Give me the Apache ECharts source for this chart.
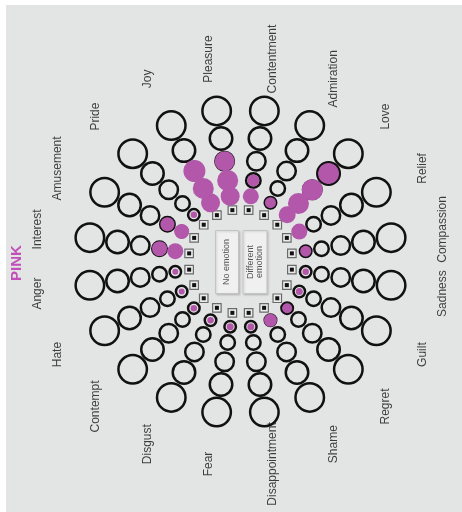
<!DOCTYPE html>
<html>
<head>
<meta charset="utf-8">
<style>
html,body{margin:0;padding:0;background:#ffffff;}
#chart{width:462px;height:512px;}
</style>
<script src="https://cdn.jsdelivr.net/npm/echarts@6/dist/echarts.min.js"></script>
</head>
<body>
<div id="chart"></div>
<script>
// Emotions, counter-clockwise starting just above 3 o'clock
const emotions = ['Compassion','Relief','Love','Admiration','Contentment','Pleasure','Joy','Pride','Amusement','Interest','Anger','Hate','Contempt','Disgust','Fear','Disappointment','Shame','Regret','Guilt','Sadness'];
// Pink response strength per ring (ring 1 = innermost, small intensity)
const pinkRing1 = [11,16,17,11,16,19,19,6.5,15,16,6,6,6.5,6.5,7,7,13,10,7,6.5];
const pinkRing2 = [0,0,21,0,12,21,21,0,14,15,0,0,0,0,0,0,0,0,0,0];
const pinkRing3 = [0,0,21,0,0,20,22,0,0,0,0,0,0,0,0,0,0,0,0,0];
const pinkRing4 = [0,0,21,0,0,0,0,0,0,0,0,0,0,0,0,0,0,0,0,0];
const pinkRing5 = [0,0,0,0,0,0,0,0,0,0,0,0,0,0,0,0,0,0,0,0];
const pinkRings = [pinkRing1,pinkRing2,pinkRing3,pinkRing4,pinkRing5];

// layout (not data)
const CX = 240.5, CY = 261.5;
const ringRadius = [66, 82, 101.5, 124.5, 152.5];
const ringSize = [11.5, 14.5, 18.5, 22.5, 28.5];
const squareRadius = 52;
const labelRadius = 205;
const angleOf = i => 9 + 18 * i;

const outlineData = [];
emotions.forEach((e, i) => ringRadius.forEach((r, k) => outlineData.push([r, angleOf(i), k])));
const squareData = emotions.map((e, i) => [squareRadius, angleOf(i)]);
const pinkData = [];
pinkRings.forEach((arr, k) => arr.forEach((v, i) => { if (v > 0) pinkData.push([ringRadius[k], angleOf(i), v]); }));
const labelData = emotions.map((e, i) => ({ value: [labelRadius, angleOf(i)], name: e }));

const chart = echarts.init(document.getElementById('chart'), null, { renderer: 'canvas' });
chart.setOption({
  backgroundColor: '#ffffff',
  animation: false,
  polar: { center: [CX, CY], radius: 210 },
  angleAxis: { type: 'value', min: 0, max: 360, startAngle: 0, clockwise: false, show: false },
  radiusAxis: { type: 'value', min: 0, max: 210, show: false },
  graphic: [
    { type: 'rect', z: -10, shape: { x: 6, y: 5, width: 456, height: 507 }, style: { fill: '#e3e4e4' }, silent: true },
    { type: 'rect', z: -5, shape: { x: 215.5, y: 230.5, width: 23, height: 63 }, style: { fill: '#f0f0f0', stroke: '#c4c4c4', lineWidth: 1, shadowBlur: 2, shadowColor: 'rgba(0,0,0,0.15)', shadowOffsetX: 1, shadowOffsetY: 1 }, silent: true },
    { type: 'rect', z: -5, shape: { x: 243, y: 230.5, width: 24, height: 63 }, style: { fill: '#f0f0f0', stroke: '#c4c4c4', lineWidth: 1, shadowBlur: 2, shadowColor: 'rgba(0,0,0,0.15)', shadowOffsetX: 1, shadowOffsetY: 1 }, silent: true },
    { type: 'text', x: 227, y: 262, rotation: Math.PI / 2, style: { text: 'No emotion', font: '9px "Liberation Sans", Arial, sans-serif', fill: '#555', textAlign: 'center', textVerticalAlign: 'middle' }, silent: true },
    { type: 'text', x: 255, y: 262, rotation: Math.PI / 2, style: { text: 'Different\nemotion', font: '9px "Liberation Sans", Arial, sans-serif', fill: '#555', textAlign: 'center', textVerticalAlign: 'middle', lineHeight: 9 }, silent: true },
    { type: 'text', x: 17, y: 263, rotation: Math.PI / 2, style: { text: 'PINK', font: 'bold 15px "Liberation Sans", Arial, sans-serif', fill: '#c150b9', textAlign: 'center', textVerticalAlign: 'middle' }, silent: true }
  ],
  series: [
    {
      type: 'scatter', coordinateSystem: 'polar', silent: true, z: 2,
      symbol: 'circle',
      symbolSize: v => ringSize[v[2]],
      itemStyle: { color: 'rgba(0,0,0,0)', borderColor: '#111111', borderWidth: 2.5, opacity: 1 },
      data: outlineData
    },
    {
      type: 'scatter', coordinateSystem: 'polar', silent: true, z: 3,
      symbol: 'rect', symbolSize: 8.5,
      itemStyle: { color: '#ececec', borderColor: '#6a6a6a', borderWidth: 1.2, opacity: 1 },
      data: squareData
    },
    {
      type: 'scatter', coordinateSystem: 'polar', silent: true, z: 4,
      symbol: 'rect', symbolSize: 4,
      itemStyle: { color: '#111111', opacity: 1 },
      data: squareData
    },
    {
      type: 'scatter', coordinateSystem: 'polar', silent: true, z: 5,
      symbol: 'circle',
      symbolSize: v => v[2],
      itemStyle: { color: '#b257aa', opacity: 1 },
      data: pinkData
    },
    {
      type: 'scatter', coordinateSystem: 'polar', silent: true, z: 6,
      symbolSize: 0,
      label: { show: true, position: 'inside', rotate: 90, formatter: p => p.name, fontFamily: '"Liberation Sans", Arial, sans-serif', fontSize: 12, color: '#111111' },
      data: labelData
    }
  ]
});
</script>
</body>
</html>
